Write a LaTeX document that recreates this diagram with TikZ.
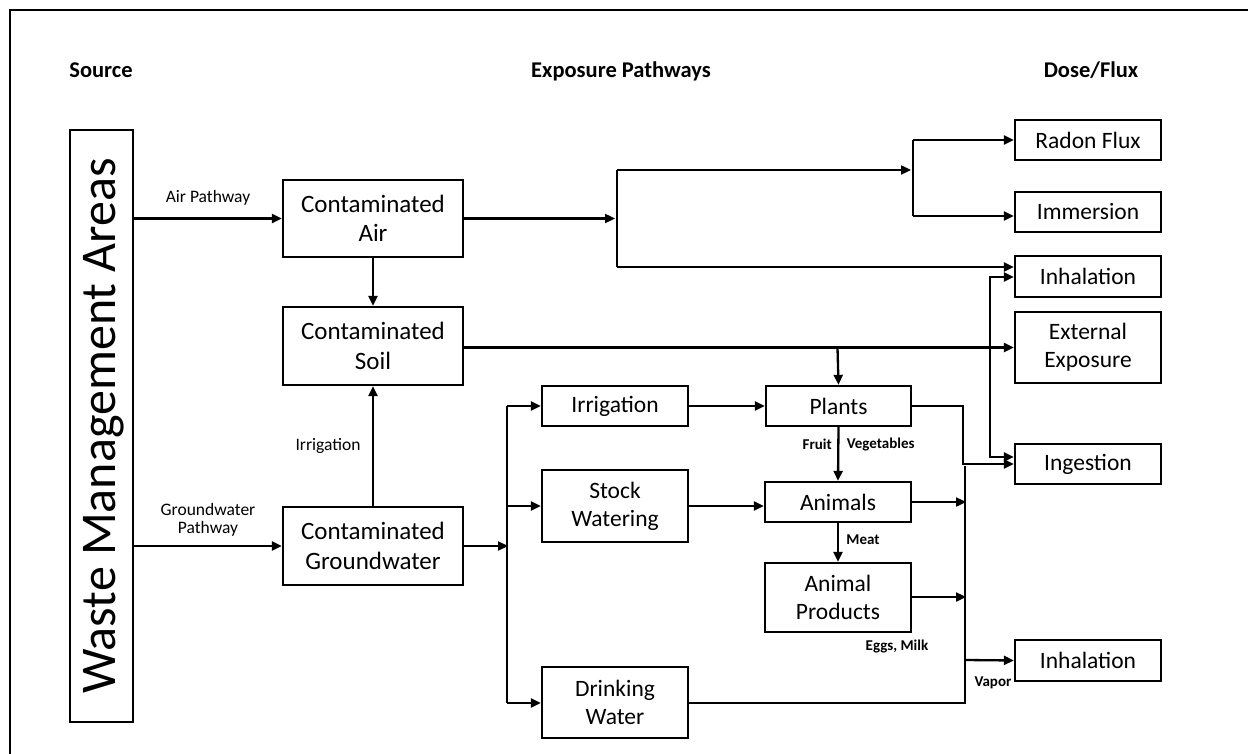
\documentclass[tikz,border=0pt]{standalone}
\usepackage{fontspec}
\setmainfont{Carlito}
\usetikzlibrary{arrows.meta,calc}

\tikzset{
  box/.style={draw, line width=2.3pt, inner sep=0pt, align=center,
    font=\fontsize{23.5}{28}\selectfont},
  bigbox/.style={box, font=\fontsize{25}{29.5}\selectfont},
  arr/.style={line width=2.3pt, -{Triangle[length=10pt,width=9pt]}},
  ln/.style={line width=2.3pt},
  head/.style={font=\fontsize{22.5}{26}\selectfont\bfseries, anchor=base},
  lbl/.style={font=\fontsize{17.5}{21.5}\selectfont, align=center},
  small/.style={font=\fontsize{15}{18}\selectfont\bfseries},
}

\begin{document}
\begin{tikzpicture}[x=1pt, y=-1pt]
\useasboundingbox (0,0) rectangle (1248,754);
\clip (0,0) rectangle (1248,754);
\fill[white] (0,0) rectangle (1248,754);
% outer frame
\draw[line width=2.8pt] (10,10) rectangle (1300,800);

% column headings
\node[head] (hsrc) at (101,78) {Source};
\node[head] (hexp) at (621,78) {Exposure Pathways};
\node[head] (hdose) at (1091,78) {Dose/Flux};

% source
\node[box, minimum width=63pt, minimum height=592pt] (wma) at (101.5,426) {};
\node[rotate=90, font=\fontsize{50}{54}\selectfont] (wmatext) at (104,426) {Waste Management Areas};

% contaminated media
\node[bigbox, minimum width=180pt, minimum height=77pt] (cair) at (373,218.5) {Contaminated\\Air};
\node[bigbox, minimum width=180pt, minimum height=78pt] (csoil) at (373,346) {Contaminated\\Soil};
\node[bigbox, minimum width=180pt, minimum height=78pt] (cgw) at (373,546) {Contaminated\\Groundwater};

% water uses
\node[box, minimum width=146pt, minimum height=40pt] (irr) at (615,406) {Irrigation};
\node[box, minimum width=146pt, minimum height=72pt] (stock) at (615,506) {Stock\\Watering};
\node[box, minimum width=146pt, minimum height=71pt] (drink) at (615,702.5) {Drinking\\Water};

% food chain
\node[box, minimum width=145pt, minimum height=40pt] (plants) at (838.5,406) {Plants};
\node[box, minimum width=146pt, minimum height=40pt] (animals) at (838,502) {Animals};
\node[box, minimum width=146pt, minimum height=69pt] (aprod) at (838,597.5) {Animal\\Products};

% dose / flux
\node[box, minimum width=146pt, minimum height=40pt] (radon) at (1088,140) {Radon Flux};
\node[box, minimum width=146pt, minimum height=40pt] (immer) at (1088,212) {Immersion};
\node[box, minimum width=146pt, minimum height=41pt] (inhA) at (1088,276.5) {Inhalation};
\node[box, minimum width=146pt, minimum height=71pt] (ext) at (1088,347.5) {External\\Exposure};
\node[box, minimum width=146pt, minimum height=40pt] (ing) at (1088,464) {Ingestion};
\node[box, minimum width=146pt, minimum height=41pt] (inhB) at (1088,660.5) {Inhalation};

% junction points
\coordinate (airJ) at (617,218.5);
\coordinate (airTop) at (617,170);
\coordinate (airBot) at (617,267);
\coordinate (radJ) at (913,170);
\coordinate (gwJ) at (507,546);
\coordinate (plJ) at (837.5,347.5);
\coordinate (collect) at (965,466);
\coordinate (sideJ) at (990,277);

% source pathways
\draw[arr] (wma.east |- cair.west) -- node[lbl, above=9pt] (airlbl) {Air Pathway} (cair.west);
\draw[arr] (wma.east |- cgw.west) -- node[lbl, above=5pt] (gwlbl) {Groundwater\\[-3pt]Pathway} (cgw.west);
\draw[arr] (cair.south) -- (csoil.north);
\draw[arr] (cgw.north) -- node[lbl, left=8pt, pos=0.5] (irrlbl) {Irrigation} (csoil.south);

% air branches
\draw[arr] (cair.east) -- ($(airJ)+(-2,0)$);
\draw[ln] (airTop) -- (airBot);
\draw[arr] (airTop) -- ($(radJ)+(-2,0)$);
\draw[ln] (radJ |- radon.west) -- (radJ |- 0,216);
\draw[arr] (radJ |- radon.west) -- (radon.west);
\draw[arr] (radJ |- 0,216) -- (immer.west |- 0,216);
\draw[arr] (airBot) -- (inhA.west |- airBot);

% soil branches
\draw[arr] (csoil.east |- plJ) -- (ext.west);
\draw[arr] (plJ) -- (plants.north);

% groundwater branches
\draw[arr] (cgw.east) -- ($(gwJ)+(1,0)$);
\draw[ln] (gwJ |- irr.west) -- (gwJ |- 0,703);
\draw[arr] (gwJ |- irr.west) -- (irr.west);
\draw[arr] (gwJ |- stock.west) -- (stock.west);
\draw[arr] (gwJ |- 0,703) -- (drink.west |- 0,703);

% food chain
\draw[arr] (irr.east) -- (plants.west);
\draw[arr] (stock.east) -- (animals.west |- stock.east);
\draw[arr] (plants.south) -- node[small, left=2pt, pos=0.32] (fruit) {Fruit}
  node[small, right=4pt, pos=0.32] (veg) {Vegetables} (animals.north);
\draw[arr] (animals.south) -- node[small, right=4pt, pos=0.42] (meat) {Meat} (aprod.north);
\node[small] (eggs) at (897,647) {Eggs, Milk};

% ingestion collector
\draw[arr] (plants.east) -- (963,406) -- (963,464) -- (ing.west);
\draw[ln] (drink.east |- 0,703) -- (965,703) -- (collect);
\draw[arr] (animals.east) -- (966,502);
\draw[arr] (aprod.east |- 0,597) -- (966,597);
\draw[arr] (965,660) -- (inhB.west);
\node[small, anchor=north west] (vapor) at (971,673) {Vapor};

% inhalation / ingestion link
\draw[line width=2.3pt, {Triangle[length=10pt,width=9pt]}-{Triangle[length=10pt,width=9pt]}]
  (inhA.west |- sideJ) -- (sideJ) -- (990,457) -- (ing.west |- 0,457);
\end{tikzpicture}
\end{document}
